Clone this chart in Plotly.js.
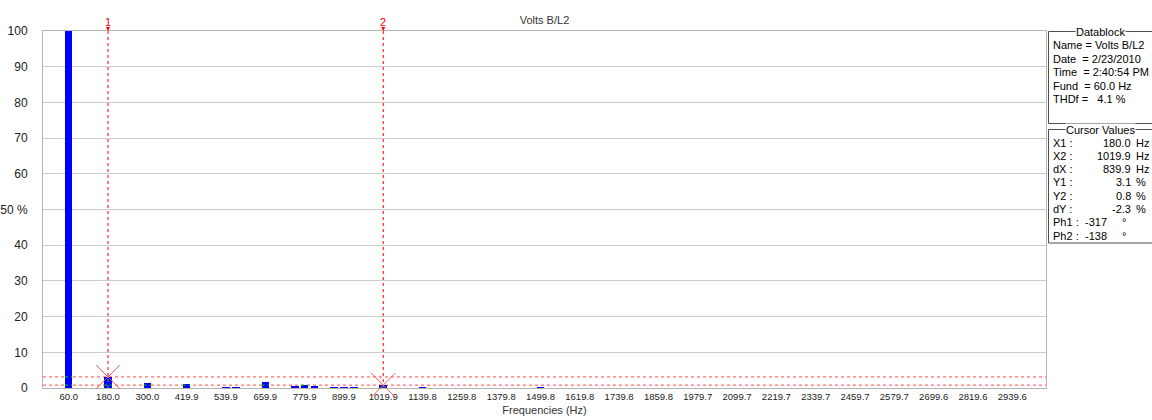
<!DOCTYPE html>
<html><head><meta charset="utf-8">
<script src="https://cdn.plot.ly/plotly-3.0.1.min.js"></script>
<style>body{margin:0;background:#fff}</style>
</head><body><div id="chart" style="width:1152px;height:420px"></div>
<script>
// ---- data ----
const chartTitle = 'Volts B/L2';
const xTitle = 'Frequencies (Hz)';
const freqHz = [60, 180, 300, 419.9, 539.9, 570, 659.9, 750, 779.9, 810, 870, 899.9, 930, 1019.9, 1139.8, 1499.8];
const magPct = [100, 3.1, 1.5, 1.2, 0.4, 0.4, 1.6, 0.5, 0.9, 0.5, 0.4, 0.4, 0.4, 0.8, 0.4, 0.35];
const tickHz = [60.0, 180.0, 300.0, 419.9, 539.9, 659.9, 779.9, 899.9, 1019.9, 1139.8, 1259.8, 1379.8, 1499.8,
  1619.8, 1739.8, 1859.8, 1979.7, 2099.7, 2219.7, 2339.7, 2459.7, 2579.7, 2699.6, 2819.6, 2939.6];
const tickLabels = tickHz.map(v => v.toFixed(1));
const yTickVals = [0, 10, 20, 30, 40, 50, 60, 70, 80, 90, 100];
const yTickLabels = ['0', '10', '20', '30', '40', '50 %', '60', '70', '80', '90', '100'];
const cursorNames = ['1', '2'];
const cursorX = [180.0, 1019.9];
const cursorY = [3.1, 0.8];
const cursorPhase = [-317, -138];
const datablockTitle = 'Datablock';
const datablockRows = ['Name = Volts B/L2', 'Date\u00a0\u00a0= 2/23/2010', 'Time\u00a0\u00a0= 2:40:54 PM', 'Fund\u00a0\u00a0= 60.0 Hz', 'THDf =\u00a0\u00a0 4.1 %'];
const cursorTitle = 'Cursor Values';
const cursorLabels = ['X1 :', 'X2 :', 'dX :', 'Y1 :', 'Y2 :', 'dY :', 'Ph1 :', 'Ph2 :'];
const cursorValues = [cursorX[0].toFixed(1), cursorX[1].toFixed(1), (cursorX[1] - cursorX[0]).toFixed(1),
  cursorY[0].toFixed(1), cursorY[1].toFixed(1), (cursorY[1] - cursorY[0]).toFixed(1),
  String(cursorPhase[0]), String(cursorPhase[1])];
const cursorUnits = ['Hz', 'Hz', 'Hz', '%', '%', '%', '°', '°'];

// ---- layout helpers ----
const W = 1152, H = 420, ML = 43, MR = 106, MT = 31, MB = 32;
const PW = W - ML - MR, PH = H - MT - MB;
const px2x = px => (px - ML) / PW;
const py2y = py => (H - MB - py) / PH;
const FONT = 'Liberation Sans, Arial, sans-serif';
const barW = 23;
const yMax = 100;

const shapes = [];
const annotations = [];

// cursor lines (behind bars)
cursorY.forEach(v => shapes.push({type: 'line', layer: 'below', xref: 'paper', x0: 0, x1: 1, yref: 'y', y0: v, y1: v,
  line: {color: '#ff4848', width: 1, dash: '3px,3px'}}));
cursorX.forEach(v => shapes.push({type: 'line', layer: 'below', xref: 'x', x0: v, x1: v, yref: 'paper', y0: 0, y1: 1,
  line: {color: '#ff0000', width: 1, dash: '3px,3px'}}));
// XOR-looking segments over the bars
cursorY.forEach(v => freqHz.forEach((f, i) => {
  if (magPct[i] > v) shapes.push({type: 'line', xref: 'x', x0: f - barW / 2, x1: f + barW / 2, yref: 'y', y0: v, y1: v,
    line: {color: '#00d000', width: 1, dash: '3px,3px'}});
}));
cursorX.forEach(v => freqHz.forEach((f, i) => {
  if (Math.abs(f - v) < 1) shapes.push({type: 'line', xref: 'x', x0: v, x1: v, yref: 'y', y0: 0, y1: magPct[i],
    line: {color: '#00d000', width: 1, dash: '3px,3px'}});
}));
// X marks at cursor points
cursorX.forEach((v, k) => {
  [[-12, -12, 12, 12], [-12, 12, 12, -12]].forEach(d => shapes.push({type: 'line', xref: 'x', xsizemode: 'pixel', xanchor: v,
    x0: d[0], y0: d[1], x1: d[2], y1: d[3], yref: 'paper', ysizemode: 'pixel', yanchor: cursorY[k] / yMax,
    line: {color: '#ff5a5a', width: 1}}));
  annotations.push({x: v, y: yMax, xref: 'x', yref: 'y', text: cursorNames[k], showarrow: true, ax: 0, ay: -9,
    arrowhead: 2, arrowsize: 0.8, arrowwidth: 1, arrowcolor: '#ff0000', standoff: 0,
    font: {family: FONT, size: 11, color: '#ff0000'}});
});

// right-side group boxes
function groupBox(top, bottom, title) {
  shapes.push({type: 'rect', xref: 'paper', yref: 'paper', x0: px2x(1048.5), x1: px2x(1165), y0: py2y(top), y1: py2y(bottom),
    line: {color: '#505050', width: 1}, fillcolor: 'rgba(0,0,0,0)'});
  annotations.push({xref: 'paper', yref: 'paper', x: px2x(1100), y: py2y(top), text: title, showarrow: false,
    xanchor: 'center', yanchor: 'middle', bgcolor: '#ffffff', borderpad: 0,
    font: {family: FONT, size: 11, color: '#000'}});
}
groupBox(31.5, 123.5, datablockTitle);
datablockRows.forEach((t, i) => annotations.push({xref: 'paper', yref: 'paper', x: px2x(1051), y: py2y(45 + i * 13.6),
  text: t, showarrow: false, xanchor: 'left', yanchor: 'middle', font: {family: FONT, size: 11, color: '#000'}}));
groupBox(129.5, 243, cursorTitle);
cursorLabels.forEach((t, i) => {
  const y = py2y(142.5 + i * 13.3);
  const isPh = cursorUnits[i] === '°';
  annotations.push({xref: 'paper', yref: 'paper', x: px2x(1051), y, text: t, showarrow: false, xanchor: 'left',
    yanchor: 'middle', font: {family: FONT, size: 11, color: '#000'}});
  annotations.push({xref: 'paper', yref: 'paper', x: px2x(isPh ? 1109 : 1133), y, text: cursorValues[i], showarrow: false,
    xanchor: 'right', yanchor: 'middle', font: {family: FONT, size: 11, color: '#000'}});
  annotations.push({xref: 'paper', yref: 'paper', x: px2x(isPh ? 1120 : 1134), y, text: cursorUnits[i], showarrow: false,
    xanchor: 'left', yanchor: 'middle', font: {family: FONT, size: 11, color: '#000'}});
});

const trace = {type: 'bar', x: freqHz, y: magPct, width: barW, marker: {color: '#0000ff', line: {width: 0}},
  hoverinfo: 'x+y'};

const layout = {
  width: W, height: H, margin: {l: ML, r: MR, t: MT, b: MB},
  paper_bgcolor: '#ffffff', plot_bgcolor: '#ffffff', showlegend: false,
  font: {family: FONT, size: 11, color: '#333'},
  title: {text: chartTitle, xref: 'paper', x: 0.5, xanchor: 'center', yref: 'container', y: 1 - 20 / H, yanchor: 'middle',
    font: {family: FONT, size: 11, color: '#333'}},
  xaxis: {range: [-18.4, 3042.5], tickmode: 'array', tickvals: tickHz, ticktext: tickLabels, showgrid: false,
    zeroline: false, showline: true, linecolor: '#b4b4b4', mirror: true, ticks: '',
    tickfont: {family: FONT, size: 9.5, color: '#222'},
    title: {text: xTitle, standoff: 4, font: {family: FONT, size: 11, color: '#333'}}, automargin: false, fixedrange: true},
  yaxis: {range: [0, yMax], tickmode: 'array', tickvals: yTickVals, ticktext: yTickLabels, showgrid: true,
    gridcolor: '#cccccc', zeroline: false, showline: true, linecolor: '#b4b4b4', mirror: true,
    ticks: 'outside', ticklen: 12, tickcolor: 'rgba(0,0,0,0)', tickfont: {family: FONT, size: 12, color: '#222'},
    automargin: false, fixedrange: true},
  shapes, annotations, bargap: 0
};
Plotly.newPlot('chart', [trace], layout, {displayModeBar: false, staticPlot: true});
</script></body></html>
